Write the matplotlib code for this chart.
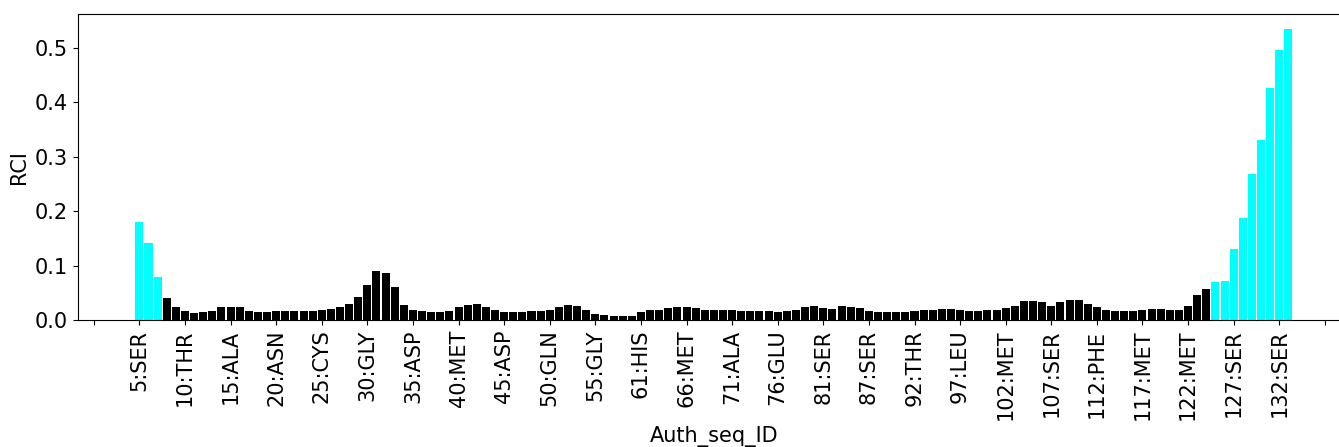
import numpy as np
import matplotlib
matplotlib.use('Agg')
from matplotlib import pyplot as plt

# RCI values per residue (in sequence order, 5:SER first)
rci = [0.180, 0.142, 0.079, 0.041, 0.024, 0.017, 0.013, 0.015, 0.017, 0.023,
       0.023, 0.023, 0.017, 0.015, 0.015, 0.017, 0.017, 0.017, 0.017, 0.017,
       0.019, 0.021, 0.024, 0.030, 0.043, 0.065, 0.090, 0.087, 0.061, 0.028,
       0.019, 0.017, 0.015, 0.015, 0.017, 0.024, 0.028, 0.029, 0.024, 0.018,
       0.015, 0.015, 0.015, 0.017, 0.017, 0.018, 0.024, 0.028, 0.026, 0.018,
       0.011, 0.009, 0.007, 0.007, 0.007, 0.015, 0.018, 0.018, 0.022, 0.024,
       0.024, 0.022, 0.018, 0.018, 0.018, 0.018, 0.017, 0.017, 0.017, 0.017,
       0.015, 0.017, 0.018, 0.024, 0.026, 0.022, 0.020, 0.026, 0.024, 0.022,
       0.017, 0.015, 0.015, 0.015, 0.015, 0.017, 0.018, 0.018, 0.020, 0.020,
       0.018, 0.017, 0.017, 0.018, 0.018, 0.022, 0.026, 0.035, 0.035, 0.033,
       0.026, 0.033, 0.037, 0.037, 0.029, 0.024, 0.018, 0.017, 0.017, 0.017,
       0.019, 0.021, 0.021, 0.019, 0.019, 0.026, 0.046, 0.057, 0.070, 0.072,
       0.131, 0.187, 0.268, 0.330, 0.426, 0.495, 0.535]

# residues flagged as flexible (drawn in cyan)
flexible_idx = [0, 1, 2, 118, 119, 120, 121, 122, 123, 124, 125, 126]

# tick labels, one every 5 residues
tick_labels = ['', '5:SER', '10:THR', '15:ALA', '20:ASN', '25:CYS', '30:GLY',
               '35:ASP', '40:MET', '45:ASP', '50:GLN', '55:GLY', '61:HIS',
               '66:MET', '71:ALA', '76:GLU', '81:SER', '87:SER', '92:THR',
               '97:LEU', '102:MET', '107:SER', '112:PHE', '117:MET',
               '122:MET', '127:SER', '132:SER', '']

x = np.arange(len(rci))
colors = ['cyan' if i in flexible_idx else 'black' for i in x]

fig = plt.figure(figsize=(13.39, 4.47), dpi=100)
ax = fig.add_axes([0.0579, 0.2841, 0.9505, 0.6846])
ax.bar(x, rci, width=0.88, color=colors)

ax.set_xticks(np.arange(-5, 131, 5))
ax.set_xticklabels(tick_labels, rotation=90, fontsize=15)
ax.tick_params(axis='y', labelsize=15)
ax.set_xlabel('Auth_seq_ID', fontsize=15)
ax.set_ylabel('RCI', fontsize=15)

fig.savefig('out.png', dpi=100)
